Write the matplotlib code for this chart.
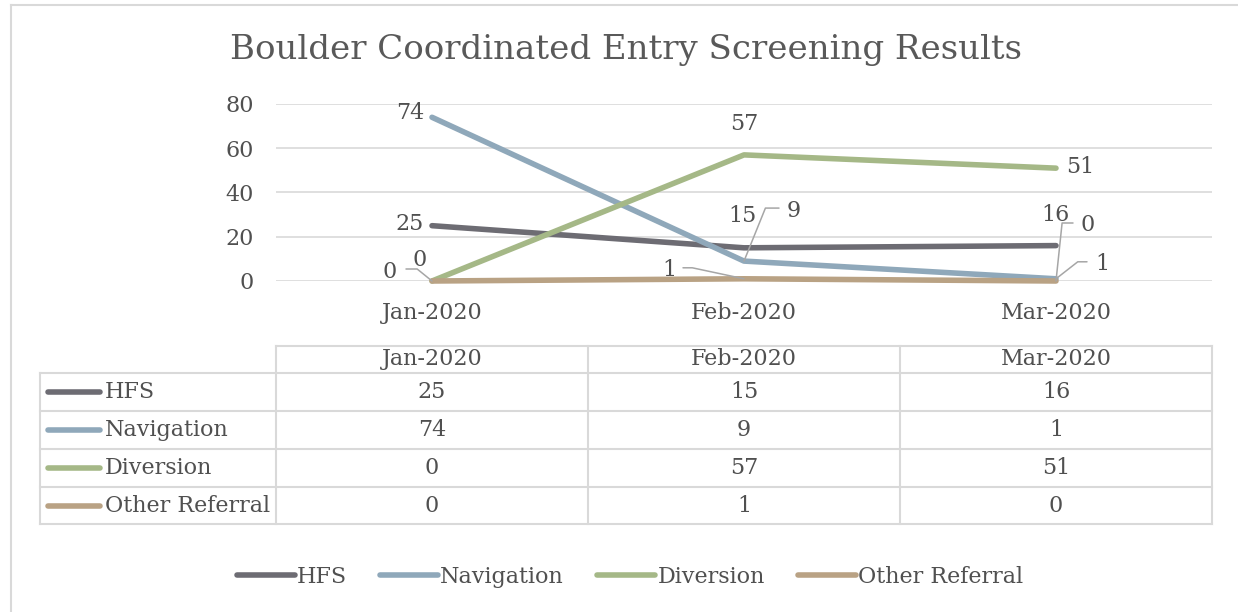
import matplotlib.pyplot as plt
from matplotlib.lines import Line2D

# data
months = ['Jan-2020', 'Feb-2020', 'Mar-2020']
series_names = ['HFS', 'Navigation', 'Diversion', 'Other Referral']
hfs = [25, 15, 16]
navigation = [74, 9, 1]
diversion = [0, 57, 51]
other_referral = [0, 1, 0]
series = [hfs, navigation, diversion, other_referral]
colors = ['#6d6c73', '#8fa8ba', '#a5b887', '#b9a284']

W, H = 1238, 612
text_col = '#505050'
grid_col = '#d9d9d9'
fs = 16

plt.rcParams['font.family'] = 'DejaVu Serif'
fig = plt.figure(figsize=(W / 100, H / 100), dpi=100)


def fx(x):
    return x / W


def fy(y):
    return 1 - y / H


# outer chart border (only left and top visible)
fig.add_artist(Line2D([fx(11), fx(11)], [fy(5), 0], transform=fig.transFigure, color=grid_col, lw=1.5))
fig.add_artist(Line2D([fx(11), 1], [fy(5), fy(5)], transform=fig.transFigure, color=grid_col, lw=1.5))

fig.text(fx(626), fy(50), 'Boulder Coordinated Entry Screening Results',
         ha='center', va='center', fontsize=24.5, color='#595959')

ax = fig.add_axes([fx(276), fy(281), 936 / W, 177 / H])
x = range(len(months))
for vals, c in zip(series, colors):
    ax.plot(x, vals, color=c, lw=4, solid_capstyle='round', zorder=3, clip_on=False)
ax.set_xlim(-0.5, 2.5)
ax.set_ylim(0, 80)
ax.set_yticks(range(0, 81, 20))
ax.set_xticks(list(x), months)
ax.grid(axis='y', color=grid_col, lw=1.2)
ax.set_axisbelow(True)
for s in ax.spines.values():
    s.set_visible(False)
ax.tick_params(length=0, labelsize=fs, colors=text_col)
ax.tick_params(axis='x', pad=15)
ax.tick_params(axis='y', pad=16)

# data labels: (series, point, dx, dy, ha) in pixels
labels = [
    (0, 0, -8, 2, 'right'), (0, 1, -2, 32, 'center'), (0, 2, -1, 31, 'center'),
    (1, 0, -8, 4, 'right'), (1, 1, 50, 50, 'center'), (1, 2, 46, 15, 'center'),
    (2, 0, -42, 9, 'center'), (2, 1, 0, 31, 'center'), (2, 2, 24, 1, 'center'),
    (3, 0, -12, 21, 'center'), (3, 1, -75, 9, 'center'), (3, 2, 32, 56, 'center'),
]
for si, pi, dx, dy, ha in labels:
    v = series[si][pi]
    ax.annotate(str(v), xy=(pi, v), xytext=(dx, dy), textcoords='offset pixels',
                ha=ha, va='center', fontsize=fs, color=text_col, zorder=4)

# leader lines: (series, point, start dx, start dy, angle of diagonal)
leaders = [
    (1, 1, 35, 53, 68), (1, 2, 31, 17, 38),
    (3, 0, -26, 12, -39), (3, 1, -61, 11, -12), (3, 2, 17, 58, -96),
]
for si, pi, dx, dy, ang in leaders:
    v = series[si][pi]
    ax.annotate('', xy=(pi, v), xytext=(dx, dy), textcoords='offset pixels',
                arrowprops=dict(arrowstyle='-', color='#a6a6a6', lw=1.1, shrinkA=0, shrinkB=0,
                                connectionstyle=f'angle,angleA=0,angleB={ang},rad=0'),
                zorder=4)

# data table
col_edges = [276, 588, 900, 1212]
row_edges = [373, 411, 449, 487, 524]
tkw = dict(transform=fig.transFigure, color=grid_col, lw=1.5)
fig.add_artist(Line2D([fx(276), fx(1212)], [fy(346), fy(346)], **tkw))
for y in row_edges:
    fig.add_artist(Line2D([fx(40), fx(1212)], [fy(y), fy(y)], **tkw))
for xe in col_edges:
    fig.add_artist(Line2D([fx(xe), fx(xe)], [fy(346), fy(524)], **tkw))
fig.add_artist(Line2D([fx(40), fx(40)], [fy(373), fy(524)], **tkw))

col_centers = [(col_edges[i] + col_edges[i + 1]) / 2 for i in range(3)]
for cx, m in zip(col_centers, months):
    fig.text(fx(cx), fy(359), m, ha='center', va='center', fontsize=fs, color=text_col)
for r, (name, vals, c) in enumerate(zip(series_names, series, colors)):
    yc = (row_edges[r] + row_edges[r + 1]) / 2
    fig.add_artist(Line2D([fx(48), fx(100)], [fy(yc), fy(yc)], transform=fig.transFigure,
                          color=c, lw=4, solid_capstyle='round'))
    fig.text(fx(105), fy(yc), name, ha='left', va='center', fontsize=fs, color=text_col)
    for cx, v in zip(col_centers, vals):
        fig.text(fx(cx), fy(yc), str(v), ha='center', va='center', fontsize=fs, color=text_col)

# legend
handles = [Line2D([], [], color=c, lw=4, solid_capstyle='round') for c in colors]
fig.legend(handles, series_names, loc='center', bbox_to_anchor=(fx(630), fy(577)), ncol=4,
           frameon=False, handlelength=2.6, handletextpad=0.1, columnspacing=1.5,
           fontsize=fs, labelcolor=text_col)

fig.savefig('out.png', dpi=100, facecolor='white')
